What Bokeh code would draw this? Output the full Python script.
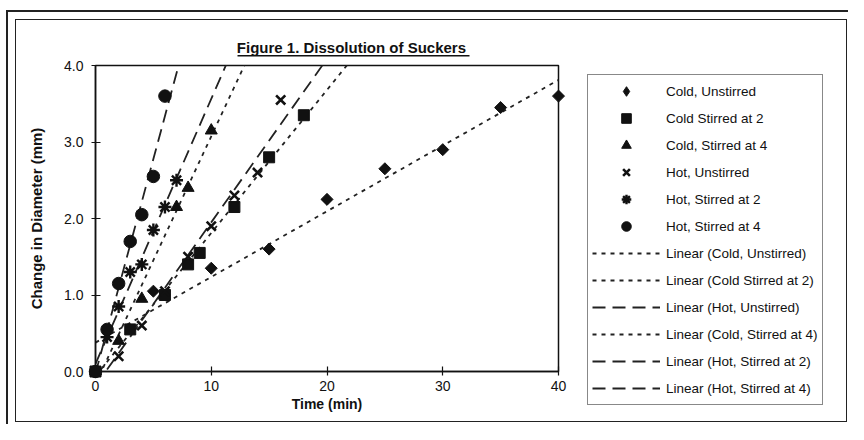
import numpy as np
from bokeh.plotting import figure
from bokeh.layouts import row, column
from bokeh.models import (Legend, LegendItem, FixedTicker, NumeralTickFormatter,
                          Range1d, ColumnDataSource, Label, BoxAnnotation)
from bokeh.embed import file_html
from bokeh.resources import INLINE

# ---------------- data ----------------
title_text = "Figure 1.  Dissolution of Suckers"
x_label = "Time (min)"
y_label = "Change in Diameter (mm)"
x_ticks = [0, 10, 20, 30, 40]
y_ticks = [0, 1, 2, 3, 4]

cold_unstirred_t = [0, 5, 10, 15, 20, 25, 30, 35, 40]
cold_unstirred_d = [0.0, 1.05, 1.35, 1.6, 2.25, 2.65, 2.9, 3.45, 3.6]
cold_stirred2_t = [0, 3, 6, 8, 9, 12, 15, 18]
cold_stirred2_d = [0.0, 0.55, 1.0, 1.4, 1.55, 2.15, 2.8, 3.35]
cold_stirred4_t = [0, 2, 4, 7, 8, 10]
cold_stirred4_d = [0.0, 0.4, 0.95, 2.15, 2.4, 3.15]
hot_unstirred_t = [0, 2, 4, 6, 8, 10, 12, 14, 16]
hot_unstirred_d = [0.0, 0.2, 0.6, 1.05, 1.5, 1.9, 2.3, 2.6, 3.55]
hot_stirred2_t = [0, 1, 2, 3, 4, 5, 6, 7]
hot_stirred2_d = [0.0, 0.45, 0.85, 1.3, 1.4, 1.85, 2.15, 2.5]
hot_stirred4_t = [0, 1, 2, 3, 4, 5, 6]
hot_stirred4_d = [0.0, 0.55, 1.15, 1.7, 2.05, 2.55, 3.6]

series_names = ["Cold, Unstirred", "Cold Stirred at 2", "Cold, Stirred at 4",
                "Hot, Unstirred", "Hot, Stirred at 2", "Hot, Stirred at 4"]
series_t = [cold_unstirred_t, cold_stirred2_t, cold_stirred4_t,
            hot_unstirred_t, hot_stirred2_t, hot_stirred4_t]
series_d = [cold_unstirred_d, cold_stirred2_d, cold_stirred4_d,
            hot_unstirred_d, hot_stirred2_d, hot_stirred4_d]
# order of trendline entries in the legend (indices into series)
trend_order = [0, 1, 3, 2, 4, 5]

# ---------------- styles ----------------
FONT = "Liberation Sans"
INK = "#111111"
marker_style = [
    dict(marker="square", size=8.5, angle=np.pi / 4, fill_color=INK, line_color=INK, line_width=1),
    dict(marker="square", size=11, fill_color=INK, line_color=INK, line_width=1),
    dict(marker="triangle", size=12, fill_color=INK, line_color=INK, line_width=1),
    dict(marker="x", size=13, fill_color=None, line_color=INK, line_width=2.6),
    dict(marker="asterisk", size=13, fill_color=None, line_color=INK, line_width=2.4),
    dict(marker="circle", size=12.5, fill_color=INK, line_color=INK, line_width=1),
]
# the legend cannot rotate a square, so it shows Bokeh's own diamond for the first series
legend_marker = ["diamond", "square", "triangle", "x", "asterisk", "circle"]
SHORT = "4 5"
LONG = "13 7"
trend_dash = [SHORT, SHORT, SHORT, LONG, LONG, LONG]

TOTAL_W, TOTAL_H = 848, 424
TITLE_H = 58
MAIN_W = 570
LEG_W = TOTAL_W - MAIN_W
BODY_H = TOTAL_H - TITLE_H

# ---------------- title strip ----------------
pt = figure(width=TOTAL_W, height=TITLE_H, output_backend="svg", toolbar_location=None,
            x_axis_type=None, y_axis_type=None, x_range=Range1d(0, 1), y_range=Range1d(0, 1),
            min_border=0)
pt.frame_align = False
pt.grid.visible = False
pt.outline_line_color = None
pt.background_fill_color = None
pt.border_fill_color = None
TITLE_X, TITLE_W = 353, 232
pt.add_layout(Label(x=TITLE_X, y=11, x_units="screen", y_units="screen", text=title_text,
                    text_align="center", text_baseline="middle", text_font=FONT,
                    text_font_style="bold", text_font_size="15px", text_color=INK))
pt.add_layout(BoxAnnotation(left=TITLE_X - TITLE_W / 2, right=TITLE_X + TITLE_W / 2,
                            bottom=2, top=3.4,
                            left_units="screen", right_units="screen",
                            bottom_units="screen", top_units="screen",
                            fill_color=INK, fill_alpha=1, line_color=None))

# ---------------- main plot ----------------
p = figure(width=MAIN_W, height=BODY_H, output_backend="svg", toolbar_location=None,
           x_range=Range1d(0, 40), y_range=Range1d(0, 4),
           min_border_left=95, min_border_right=12, min_border_top=65 - TITLE_H,
           min_border_bottom=53)
p.grid.visible = False
p.background_fill_color = "white"
p.border_fill_color = None
p.outline_line_color = INK
p.outline_line_width = 1.5

for ax in (p.xaxis[0], p.yaxis[0]):
    ax.axis_line_color = INK
    ax.axis_line_width = 1.5
    ax.major_tick_line_color = INK
    ax.major_tick_line_width = 1.2
    ax.major_tick_in = 5
    ax.major_tick_out = 4
    ax.minor_tick_line_color = None
    ax.major_label_text_font = FONT
    ax.major_label_text_font_size = "14px"
    ax.major_label_text_color = INK
    ax.axis_label_text_font = FONT
    ax.axis_label_text_font_style = "bold"
    ax.axis_label_text_color = INK

p.xaxis.ticker = FixedTicker(ticks=x_ticks)
p.yaxis.ticker = FixedTicker(ticks=y_ticks)
p.yaxis.formatter = NumeralTickFormatter(format="0.0")
p.xaxis.axis_label = x_label
p.yaxis.axis_label = y_label
p.xaxis.axis_label_text_font_size = "14px"
p.yaxis.axis_label_text_font_size = "15px"
p.xaxis.major_label_standoff = 5
p.xaxis.axis_label_standoff = 2
p.yaxis.major_label_standoff = 8
p.yaxis.axis_label_standoff = 16

# trend lines (least squares, drawn across the axis range, clipped by the frame)
fits = [np.polyfit(series_t[i], series_d[i], 1) for i in range(6)]
x_line = np.array([x_ticks[0], x_ticks[-1]], dtype=float)
for i in range(6):
    m, b = fits[i]
    p.line(x_line, m * x_line + b, line_color="#222222", line_width=1.8,
           line_dash=trend_dash[i])

# markers (drawn above the axes like the original, so not clipped at the frame)
for i in range(6):
    src = ColumnDataSource(dict(t=series_t[i], d=series_d[i]))
    r = p.scatter("t", "d", source=src, **marker_style[i])
    r.level = "annotation"

# ---------------- legend panel ----------------
pl = figure(width=LEG_W, height=BODY_H, output_backend="svg", toolbar_location=None,
            x_axis_type=None, y_axis_type=None, x_range=Range1d(-2, -1), y_range=Range1d(-2, -1),
            min_border=0)
pl.frame_align = False
pl.grid.visible = False
pl.outline_line_color = None
pl.background_fill_color = None
pl.border_fill_color = None

swatch_markers = []
for i in range(6):
    st = dict(marker_style[i])
    st["marker"] = legend_marker[i]
    st.pop("angle", None)
    src = ColumnDataSource(dict(t=series_t[i], d=series_d[i]))
    swatch_markers.append(pl.scatter("t", "d", source=src, **st))
swatch_lines = []
for i in range(6):
    m, b = fits[i]
    swatch_lines.append(pl.line(x_line, m * x_line + b, line_color="#222222", line_width=1.8,
                                line_dash=trend_dash[i]))

items = [LegendItem(label=series_names[i], renderers=[swatch_markers[i]]) for i in range(6)]
items += [LegendItem(label="Linear (%s)" % series_names[i], renderers=[swatch_lines[i]])
          for i in trend_order]
legend = Legend(items=items, location=(17, 19), orientation="vertical",
                label_text_font=FONT, label_text_font_size="13.5px", label_text_color=INK,
                glyph_width=68, glyph_height=24, label_height=24, spacing=3,
                padding=4, margin=0, label_standoff=6,
                border_line_color=INK, border_line_width=1.2,
                background_fill_color="white", background_fill_alpha=1.0,
                click_policy="none")
pl.add_layout(legend, "center")

layout = column(pt, row(p, pl, spacing=0), spacing=0)
# chart-area frame drawn as CSS background lines behind the transparent canvases
g = "linear-gradient(#222,#222)"
layout.styles = {
    "background-color": "white",
    "background-image": ", ".join([g] * 6),
    "background-repeat": "no-repeat",
    "background-position": "7px 10px, 6px 10px, 15px 19px, 15px 19px, 846px 19px, 15px 421px",
    "background-size": "841px 2px, 2px 414px, 832px 1px, 1px 403px, 1px 403px, 832px 1px",
}

open("out.html", "w").write(file_html(layout, INLINE))
